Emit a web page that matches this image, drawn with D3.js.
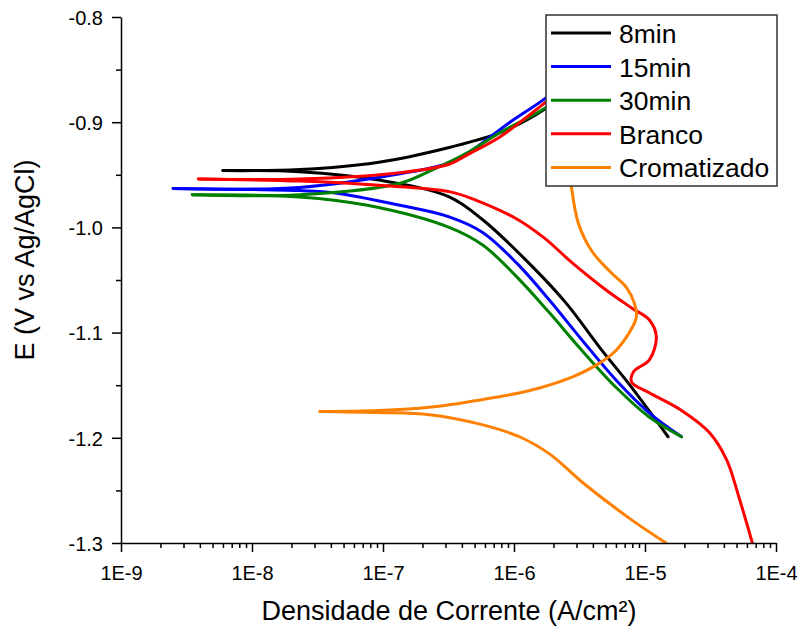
<!DOCTYPE html>
<html lang="en">
<head>
    <meta charset="UTF-8">
    <title>Polarization curves</title>
    <script src="https://d3js.org/d3.v7.min.js"></script>
    <style>
        body { margin: 0; background: #fff; }
        .axis path, .axis line { stroke: #000; stroke-width: 1.5px; }
        .axis text { fill: #000; }
    </style>
</head>
<body>
<svg width="801" height="630"></svg>
<script>
const FONT = "Liberation Sans, Arial, sans-serif";

// series names + colours
const seriesNames = ["8min", "15min", "30min", "Branco", "Cromatizado"];
const seriesColors = ["#000000", "#0000ff", "#008000", "#ff0000", "#ff8000"];

// each curve as [current density (A/cm2), E (V)]
// cathodic branch runs from Ecorr downward, anodic from Ecorr upward
const cath8 = [[6.0e-9,-0.946],[2.3e-8,-0.947],[9.3e-8,-0.955],[3.2e-7,-0.971],[5.8e-7,-0.993],[1.4e-6,-1.038],[2.5e-6,-1.072],[4.5e-6,-1.114],[7.9e-6,-1.152],[1.5e-5,-1.199]];
const anod8 = [[6.0e-9,-0.946],[2.3e-8,-0.945],[9.3e-8,-0.938],[3.2e-7,-0.924],[7.8e-7,-0.910],[1.7e-6,-0.888],[2.6e-6,-0.869]];

const cath15 = [[2.5e-9,-0.963],[2.3e-8,-0.965],[4.2e-8,-0.967],[1.35e-7,-0.979],[3.2e-7,-0.990],[5.8e-7,-1.005],[1.05e-6,-1.034],[1.86e-6,-1.069],[3.3e-6,-1.107],[6.0e-6,-1.145],[1.07e-5,-1.176],[1.9e-5,-1.199]];
const anod15 = [[2.5e-9,-0.963],[2.3e-8,-0.962],[1.35e-7,-0.949],[3.2e-7,-0.939],[4.4e-7,-0.930],[9.1e-7,-0.901],[1.66e-6,-0.879],[2.4e-6,-0.863]];

const cath30 = [[3.5e-9,-0.969],[2.3e-8,-0.971],[7.6e-8,-0.979],[3.2e-7,-1.000],[5.8e-7,-1.017],[1.05e-6,-1.047],[1.86e-6,-1.081],[3.3e-6,-1.117],[6.0e-6,-1.152],[1.07e-5,-1.180],[1.9e-5,-1.199]];
const anod30 = [[3.5e-9,-0.969],[2.3e-8,-0.969],[1.35e-7,-0.958],[2.4e-7,-0.945],[4.4e-7,-0.929],[7.8e-7,-0.910],[1.66e-6,-0.888],[2.6e-6,-0.871]];

const cathBranco = [[3.9e-9,-0.954],[2.3e-8,-0.956],[9.3e-8,-0.960],[3.2e-7,-0.966],[5.1e-7,-0.974],[1.05e-6,-0.992],[1.7e-6,-1.010],[2.8e-6,-1.034],[5.1e-6,-1.060],[8.0e-6,-1.077],[1.08e-5,-1.088],[1.22e-5,-1.104],[1.08e-5,-1.126],[8.2e-6,-1.137],[7.9e-6,-1.147],[1.07e-5,-1.157],[1.9e-5,-1.174],[3.1e-5,-1.195],[4.2e-5,-1.221],[5.2e-5,-1.256],[6.6e-5,-1.300]];
const anodBranco = [[3.9e-9,-0.954],[2.3e-8,-0.954],[1.35e-7,-0.948],[3.2e-7,-0.940],[4.4e-7,-0.931],[7.8e-7,-0.914],[1.38e-6,-0.891],[2.2e-6,-0.871]];

const cathCrom = [[3.3e-8,-1.175],[9.3e-8,-1.176],[2.26e-7,-1.178],[5.5e-7,-1.187],[1.1e-6,-1.199],[1.9e-6,-1.216],[3.3e-6,-1.242],[7.9e-6,-1.278],[1.45e-5,-1.300]];
const anodCrom = [[3.3e-8,-1.175],[9.3e-8,-1.174],[2.26e-7,-1.171],[5.5e-7,-1.164],[1.32e-6,-1.155],[2.8e-6,-1.142],[4.5e-6,-1.129],[6.0e-6,-1.117],[7.6e-6,-1.100],[8.6e-6,-1.085],[8.3e-6,-1.072],[7.2e-6,-1.057],[5.4e-6,-1.042],[3.9e-6,-1.022],[3.1e-6,-0.996],[2.75e-6,-0.962],[2.6e-6,-0.926]];

const branches = [[cath8, anod8], [cath15, anod15], [cath30, anod30], [cathBranco, anodBranco], [cathCrom, anodCrom]];

// axis ticks
const xTicks = [1e-9, 1e-8, 1e-7, 1e-6, 1e-5, 1e-4];
const xTickLabels = ["1E-9", "1E-8", "1E-7", "1E-6", "1E-5", "1E-4"];
const yTicks = [-0.8, -0.9, -1.0, -1.1, -1.2, -1.3];
const yMinorTicks = [-0.85, -0.95, -1.05, -1.15, -1.25];

const margin = { top: 17, right: 25, bottom: 87, left: 121 };
const width = 801 - margin.left - margin.right;
const height = 630 - margin.top - margin.bottom;

const svg = d3.select("svg");
const g = svg.append("g")
    .attr("transform", `translate(${margin.left},${margin.top})`);

const x = d3.scaleLog().domain([1e-9, 1e-4]).range([0, width]);
const y = d3.scaleLinear().domain([-1.3, -0.8]).range([height, 0]);

// minor x ticks at 2..9 of every decade
const xMinor = [];
for (let e = -9; e < -4; e++) {
    for (let k = 2; k <= 9; k++) xMinor.push(k * Math.pow(10, e));
}

g.append("defs").append("clipPath").attr("id", "plot-clip")
  .append("rect").attr("width", width).attr("height", height);

// curves
const line = d3.line()
    .x(d => x(d[0]))
    .y(d => y(d[1]))
    .curve(d3.curveCatmullRom.alpha(0.5));

const curves = g.append("g").attr("clip-path", "url(#plot-clip)");
branches.forEach((pair, i) => {
    pair.forEach(pts => {
        curves.append("path")
            .attr("d", line(pts))
            .attr("fill", "none")
            .attr("stroke", seriesColors[i])
            .attr("stroke-width", 3)
            .attr("stroke-linecap", "round")
            .attr("stroke-linejoin", "round");
    });
});

// X axis
g.append("g")
    .attr("class", "axis")
    .attr("transform", `translate(0,${height})`)
    .call(d3.axisBottom(x).tickValues(xMinor).tickSize(5).tickFormat(""))
    .call(a => a.select(".domain").remove());

g.append("g")
    .attr("class", "axis")
    .attr("transform", `translate(0,${height})`)
    .call(d3.axisBottom(x).tickValues(xTicks).tickSize(9).tickSizeOuter(0)
        .tickFormat((d, i) => xTickLabels[i]))
    .attr("font-family", FONT)
    .attr("font-size", 20)
    .selectAll(".tick text").attr("y", 37).attr("dy", 0);

// Y axis
g.append("g")
    .attr("class", "axis")
    .call(d3.axisLeft(y).tickValues(yMinorTicks).tickSize(5).tickFormat(""))
    .call(a => a.select(".domain").remove());

g.append("g")
    .attr("class", "axis")
    .call(d3.axisLeft(y).tickValues(yTicks).tickSize(9).tickSizeOuter(0)
        .tickFormat(d => d.toFixed(1)))
    .attr("font-family", FONT)
    .attr("font-size", 20)
    .selectAll(".tick text").attr("x", -18).attr("dy", "0.36em");

// axis titles
svg.append("text")
    .attr("x", 449)
    .attr("y", 620)
    .attr("text-anchor", "middle")
    .attr("font-family", FONT)
    .attr("font-size", 27)
    .text("Densidade de Corrente (A/cm²)");

svg.append("text")
    .attr("transform", "translate(34,260) rotate(-90)")
    .attr("text-anchor", "middle")
    .attr("font-family", FONT)
    .attr("font-size", 27)
    .text("E (V vs Ag/AgCl)");

// legend
const legend = svg.append("g")
    .attr("transform", "translate(546,15)");
legend.append("rect")
    .attr("width", 231).attr("height", 171)
    .attr("fill", "#fff").attr("stroke", "#333").attr("stroke-width", 1.5);

seriesNames.forEach((name, i) => {
    const row = legend.append("g").attr("transform", `translate(0,${18 + i * 33.6})`);
    row.append("line")
        .attr("x1", 5).attr("x2", 65)
        .attr("stroke", seriesColors[i]).attr("stroke-width", 3);
    row.append("text")
        .attr("x", 73).attr("y", 10)
        .attr("font-family", FONT)
        .attr("font-size", 26.5)
        .text(name);
});
</script>
</body>
</html>
